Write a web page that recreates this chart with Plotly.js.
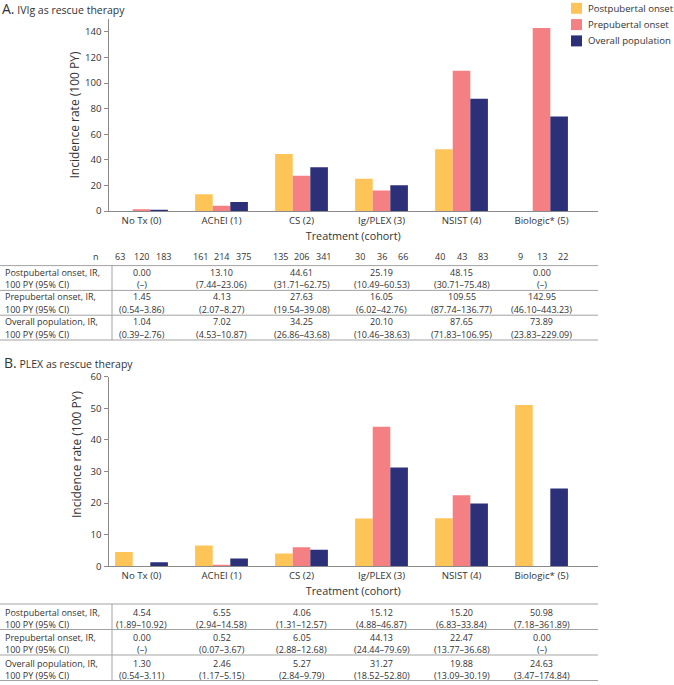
<!DOCTYPE html>
<html><head><meta charset="utf-8">
<script src="https://cdn.plot.ly/plotly-3.0.1.min.js"></script>
<style>html,body{margin:0;padding:0;background:#fff}#chart{width:674px;height:685px}</style>
</head><body><div id="chart"></div>
<script>
// ---------- data ----------
const categories = ["No Tx (0)", "AChEI (1)", "CS (2)", "Ig/PLEX (3)", "NSIST (4)", "Biologic* (5)"];
const seriesNames = ["Postpubertal onset", "Prepubertal onset", "Overall population"];
const rowLabels = ["Postpubertal onset, IR,", "Prepubertal onset, IR,", "Overall population, IR,"];
const rowLabelLine2 = "100 PY (95% CI)";

// Panel A: IVIg as rescue therapy
const ivigPost = [0.00, 13.10, 44.61, 25.19, 48.15, 0.00];
const ivigPre = [1.45, 4.13, 27.63, 16.05, 109.55, 142.95];
const ivigAll = [1.04, 7.02, 34.25, 20.10, 87.65, 73.89];
const ivigPostCI = ["(–)", "(7.44–23.06)", "(31.71–62.75)", "(10.49–60.53)", "(30.71–75.48)", "(–)"];
const ivigPreCI = ["(0.54–3.86)", "(2.07–8.27)", "(19.54–39.08)", "(6.02–42.76)", "(87.74–136.77)", "(46.10–443.23)"];
const ivigAllCI = ["(0.39–2.76)", "(4.53–10.87)", "(26.86–43.68)", "(10.46–38.63)", "(71.83–106.95)", "(23.83–229.09)"];
const nPost = [63, 161, 135, 30, 40, 9];
const nPre = [120, 214, 206, 36, 43, 13];
const nAll = [183, 375, 341, 66, 83, 22];

// Panel B: PLEX as rescue therapy
const plexPost = [4.54, 6.55, 4.06, 15.12, 15.20, 50.98];
const plexPre = [0.00, 0.52, 6.05, 44.13, 22.47, 0.00];
const plexAll = [1.30, 2.46, 5.27, 31.27, 19.88, 24.63];
const plexPostCI = ["(1.89–10.92)", "(2.94–14.58)", "(1.31–12.57)", "(4.88–46.87)", "(6.83–33.84)", "(7.18–361.89)"];
const plexPreCI = ["(–)", "(0.07–3.67)", "(2.88–12.68)", "(24.44–79.69)", "(13.77–36.68)", "(–)"];
const plexAllCI = ["(0.54–3.11)", "(1.17–5.15)", "(2.84–9.79)", "(18.52–52.80)", "(13.09–30.19)", "(3.47–174.84)"];

// ---------- style ----------
const W = 674, H = 685;
const colors = ["#FFC457", "#F48084", "#2C3079"];
const FONT = "Open Sans, Noto Sans, sans-serif";
const TXT = "#333333";
const AXC = "#8a8a8a";
const LINEC = "#a3a3a3";
const TSIZE = 9.0;
const px = v => v / W;
const py = v => 1 - v / H;
const fmt = v => v.toFixed(2);

const traces = [];
[[ivigPost, ivigPre, ivigAll, "x", "y"], [plexPost, plexPre, plexAll, "x2", "y2"]].forEach(p => {
  for (let s = 0; s < 3; s++) {
    traces.push({
      type: "bar", x: categories, y: p[s], name: seriesNames[s],
      marker: {color: colors[s], line: {width: 0}},
      xaxis: p[3], yaxis: p[4], showlegend: false,
      hoverinfo: "x+y+name"
    });
  }
});

const annotations = [];
const shapes = [];

// legend (panel A, top right)
seriesNames.forEach((nm, s) => {
  const cy = 8.3 + s * 16.3;
  shapes.push({type: "rect", xref: "paper", yref: "paper", x0: px(571), x1: px(582), y0: py(cy + 5.5), y1: py(cy - 5.5),
    fillcolor: colors[s], line: {width: 0}});
  annotations.push({xref: "paper", yref: "paper", x: px(586), y: py(cy), xanchor: "left", yanchor: "middle",
    text: nm, showarrow: false, font: {family: FONT, size: 9.6, color: TXT}});
});

function addTable(xref, top, rowH, off1, off2, vals, cis) {
  for (let r = 0; r <= 3; r++) {
    const yy = top + r * rowH;
    shapes.push({type: "line", xref: "paper", yref: "paper", x0: 0, x1: px(598), y0: py(yy), y1: py(yy),
      line: {color: LINEC, width: 1}});
  }
  shapes.push({type: "line", xref: "paper", yref: "paper", x0: px(112), x1: px(112), y0: py(top), y1: py(top + 3 * rowH),
    line: {color: LINEC, width: 1}});
  for (let r = 0; r < 3; r++) {
    const y1 = top + r * rowH + off1, y2 = top + r * rowH + off2;
    annotations.push({xref: "paper", yref: "paper", x: px(3), y: py(y1), xanchor: "left", yanchor: "middle",
      text: rowLabels[r], showarrow: false, font: {family: FONT, size: TSIZE, color: TXT}});
    annotations.push({xref: "paper", yref: "paper", x: px(3), y: py(y2), xanchor: "left", yanchor: "middle",
      text: rowLabelLine2, showarrow: false, font: {family: FONT, size: TSIZE, color: TXT}});
    categories.forEach((c, i) => {
      annotations.push({xref: xref, yref: "paper", x: c, y: py(y1), xanchor: "center", yanchor: "middle",
        text: fmt(vals[r][i]), showarrow: false, font: {family: FONT, size: TSIZE, color: TXT}});
      annotations.push({xref: xref, yref: "paper", x: c, y: py(y2), xanchor: "center", yanchor: "middle",
        text: cis[r][i], showarrow: false, font: {family: FONT, size: TSIZE, color: TXT}});
    });
  }
}

addTable("x", 265.6, 24.8, 6.5, 18.8, [ivigPost, ivigPre, ivigAll], [ivigPostCI, ivigPreCI, ivigAllCI]);
addTable("x2", 604, 25.5, 8.1, 20.4, [plexPost, plexPre, plexAll], [plexPostCI, plexPreCI, plexAllCI]);

// n row (panel A)
annotations.push({xref: "paper", yref: "paper", x: px(101), y: py(256.7), xanchor: "right", yanchor: "middle",
  text: "n", showarrow: false, font: {family: FONT, size: TSIZE, color: TXT}});
categories.forEach((c, i) => {
  [nPost, nPre, nAll].forEach((arr, k) => {
    annotations.push({xref: "x", yref: "paper", x: c, y: py(256.7), xanchor: "center", yanchor: "middle",
      xshift: (k - 1) * 21.5, text: String(arr[i]), showarrow: false, font: {family: FONT, size: TSIZE, color: TXT}});
  });
});

// Panel B title
annotations.push({xref: "paper", yref: "paper", x: px(2), y: py(362), xanchor: "left", yanchor: "middle",
  text: "<span style='font-size:14px'>B.</span> PLEX as rescue therapy", showarrow: false,
  font: {family: FONT, size: 10.5, color: TXT}});
// Panel B y-axis title (sits a little above the plot centre in the reference)
annotations.push({xref: "paper", yref: "paper", x: px(76), y: py(455), xanchor: "center", yanchor: "middle",
  textangle: -90, text: "Incidence rate (100 PY)", showarrow: false,
  font: {family: FONT, size: 12, color: TXT}});

const xBase = {
  type: "category", range: [-0.4125, 5.706], showline: true, linecolor: AXC, linewidth: 1,
  ticks: "", showgrid: false, zeroline: false, fixedrange: true,
  tickfont: {family: FONT, size: 9.7, color: TXT},
  title: {text: "Treatment (cohort)", font: {family: FONT, size: 10.8, color: TXT}, standoff: 6}
};
const yBase = {
  showline: true, linecolor: AXC, linewidth: 1, ticks: "outside", ticklen: 4, tickcolor: AXC,
  showgrid: false, zeroline: false, fixedrange: true,
  tickfont: {family: FONT, size: 9.6, color: TXT}
};

const layout = {
  width: W, height: H,
  margin: {l: 0, r: 0, t: 0, b: 0},
  paper_bgcolor: "#fff", plot_bgcolor: "#fff",
  font: {family: FONT, color: TXT},
  showlegend: false,
  title: {text: "<span style='font-size:14px'>A.</span> IVIg as rescue therapy", x: px(2), xanchor: "left",
    y: py(10), yanchor: "middle", font: {family: FONT, size: 10.5, color: TXT}},
  barmode: "group", bargap: 0.34, bargroupgap: 0,
  xaxis: Object.assign({}, xBase, {domain: [px(108.5), px(598)], anchor: "y"}),
  yaxis: Object.assign({}, yBase, {domain: [py(211), py(19)], range: [0, 150], dtick: 20, anchor: "x",
    title: {text: "Incidence rate (100 PY)", font: {family: FONT, size: 12, color: TXT}, standoff: 2}}),
  xaxis2: Object.assign({}, xBase, {domain: [px(108.5), px(598)], anchor: "y2"}),
  yaxis2: Object.assign({}, yBase, {domain: [py(566.3), py(376.5)], range: [0, 60], dtick: 10, anchor: "x2"}),
  annotations: annotations,
  shapes: shapes
};

Plotly.newPlot("chart", traces, layout, {displayModeBar: false, staticPlot: true});
</script>
</body></html>
